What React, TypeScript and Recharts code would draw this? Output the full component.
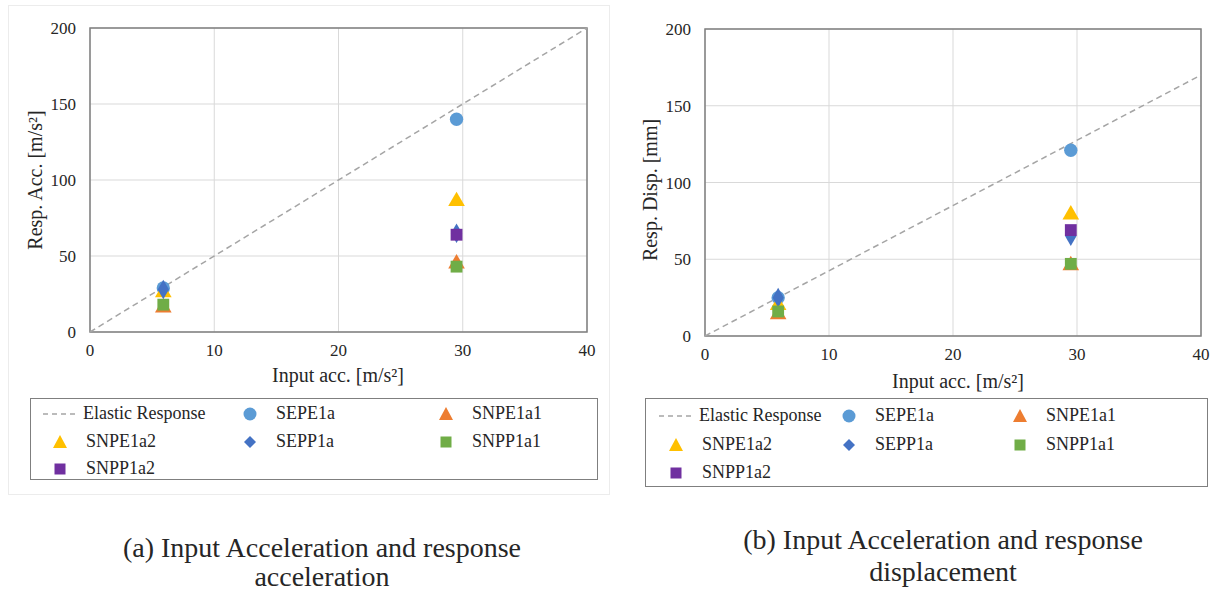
import React from 'react';
import { ScatterChart, Scatter, XAxis, YAxis, CartesianGrid, ReferenceArea, Symbols } from 'recharts';

// x positions of the two test levels
const inputAcc = [5.9, 29.5];

// (a) response acceleration [m/s2]
const accSEPE1a = [29, 140];
const accSNPE1a1 = [16, 45];
const accSNPE1a2 = [26, 86];
const accSEPP1a = [28, 65];
const accSNPP1a1 = [18, 43];
const accSNPP1a2 = [64];

// (b) response displacement [mm]
const dispSEPE1a = [25, 121];
const dispSNPE1a1 = [14, 46];
const dispSNPE1a2 = [20, 79];
const dispSEPP1a = [25, 65];
const dispSNPP1a1 = [16, 47];
const dispSNPP1a2 = [69];

const elasticX = [0, 40];
const elasticAcc = [0, 200];
const elasticDisp = [0, 170];

const xTicks = [0, 10, 20, 30, 40];
const yTicks = [0, 50, 100, 150, 200];

const toPoints = (ys: number[], xs: number[] = inputAcc) =>
  ys.map((y, i) => ({ x: xs[ys.length === 1 ? 1 : i], y }));

const COLORS = {
  elastic: '#A5A5A5',
  SEPE1a: '#5B9BD5',
  SNPE1a1: '#ED7D31',
  SNPE1a2: '#FFC000',
  SEPP1a: '#4472C4',
  SNPP1a1: '#70AD47',
  SNPP1a2: '#7030A0',
};

const FONT = '"Liberation Serif", "Times New Roman", serif';
const tickStyle = { fontFamily: FONT, fontSize: 17, fill: '#262626' };

type SeriesSet = {
  SEPE1a: number[];
  SNPE1a1: number[];
  SNPE1a2: number[];
  SEPP1a: number[];
  SNPP1a1: number[];
  SNPP1a2: number[];
};

const noShape = () => <g />;

// fixed-size markers, like Excel's size-7 markers
const sym = (type: 'circle' | 'triangle' | 'diamond' | 'square', color: string, size: number) =>
  (p: any) => <Symbols cx={p.cx} cy={p.cy} type={type} size={size} fill={color} />;

const Panel: React.FC<{ left: number; top: number; series: SeriesSet; elastic: number[]; marginRight: number; marginTop: number; marginBottom: number }> = ({ left, top, series, elastic, marginRight, marginTop, marginBottom }) => {
  const elasticPts = elastic.map((y, i) => ({ x: elasticX[i], y }));
  return (
    <div style={{ position: 'absolute', left, top }}>
      <ScatterChart width={600} height={380} margin={{ top: marginTop, right: marginRight, bottom: marginBottom, left: 0 }}>
        <CartesianGrid stroke="#d9d9d9" />
        <XAxis type="number" dataKey="x" domain={[0, 40]} ticks={xTicks} tickLine={false} axisLine={false} tickSize={0} tickMargin={12} height={30} tick={tickStyle} />
        <YAxis type="number" dataKey="y" domain={[0, 200]} ticks={yTicks} tickLine={false} axisLine={false} tickSize={0} tickMargin={14} width={90} tick={tickStyle} />
        <ReferenceArea x1={0} x2={40} y1={0} y2={200} fill="none" stroke="#7f7f7f" strokeWidth={1.5} ifOverflow="visible" />
        <Scatter name="Elastic Response" data={elasticPts} line={{ stroke: COLORS.elastic, strokeDasharray: '6 4', strokeWidth: 1.5 }} shape={noShape} isAnimationActive={false} />
        <Scatter name="SEPE1a" data={toPoints(series.SEPE1a)} fill={COLORS.SEPE1a} shape={sym('circle', COLORS.SEPE1a, 140)} isAnimationActive={false} />
        <Scatter name="SNPE1a1" data={toPoints(series.SNPE1a1)} fill={COLORS.SNPE1a1} shape={sym('triangle', COLORS.SNPE1a1, 120)} isAnimationActive={false} />
        <Scatter name="SNPE1a2" data={toPoints(series.SNPE1a2)} fill={COLORS.SNPE1a2} shape={sym('triangle', COLORS.SNPE1a2, 120)} isAnimationActive={false} />
        <Scatter name="SEPP1a" data={toPoints(series.SEPP1a)} fill={COLORS.SEPP1a} shape={sym('diamond', COLORS.SEPP1a, 110)} isAnimationActive={false} />
        <Scatter name="SNPP1a1" data={toPoints(series.SNPP1a1)} fill={COLORS.SNPP1a1} shape={sym('square', COLORS.SNPP1a1, 140)} isAnimationActive={false} />
        <Scatter name="SNPP1a2" data={toPoints(series.SNPP1a2)} fill={COLORS.SNPP1a2} shape={sym('square', COLORS.SNPP1a2, 140)} isAnimationActive={false} />
      </ScatterChart>
    </div>
  );
};

const Marker: React.FC<{ kind: string; color: string }> = ({ kind, color }) => (
  <svg width={34} height={16} style={{ verticalAlign: 'middle' }}>
    {kind === 'line' && <line x1={0} y1={8} x2={34} y2={8} stroke={color} strokeWidth={1.5} strokeDasharray="5 4" />}
    {kind === 'circle' && <circle cx={17} cy={8} r={6.5} fill={color} />}
    {kind === 'triangle' && <polygon points="17,1 24,14 10,14" fill={color} />}
    {kind === 'diamond' && <polygon points="17,2 23,8 17,14 11,8" fill={color} />}
    {kind === 'square' && <rect x={11.5} y={2.5} width={11} height={11} fill={color} />}
  </svg>
);

const legendItems = [
  { name: 'Elastic Response', kind: 'line', color: COLORS.elastic },
  { name: 'SEPE1a', kind: 'circle', color: COLORS.SEPE1a },
  { name: 'SNPE1a1', kind: 'triangle', color: COLORS.SNPE1a1 },
  { name: 'SNPE1a2', kind: 'triangle', color: COLORS.SNPE1a2 },
  { name: 'SEPP1a', kind: 'diamond', color: COLORS.SEPP1a },
  { name: 'SNPP1a1', kind: 'square', color: COLORS.SNPP1a1 },
  { name: 'SNPP1a2', kind: 'square', color: COLORS.SNPP1a2 },
];

const LegendBox: React.FC<{ left: number; top: number; width: number; height: number; colX: number[]; rowY: number[] }> = ({ left, top, width, height, colX, rowY }) => (
  <div style={{ position: 'absolute', left, top, width, height, border: '1.5px solid #7f7f7f', boxSizing: 'border-box', fontFamily: FONT, fontSize: 18, color: '#262626' }}>
    {legendItems.map((it, i) => (
      <div key={it.name} style={{ position: 'absolute', left: colX[i % 3], top: rowY[Math.floor(i / 3)], display: 'flex', alignItems: 'center', whiteSpace: 'nowrap' }}>
        <Marker kind={it.kind} color={it.color} />
        <span style={{ marginLeft: it.kind === 'line' ? 6 : 9 }}>{it.name}</span>
      </div>
    ))}
  </div>
);

const text = (s: string, style: React.CSSProperties) => (
  <div style={{ position: 'absolute', fontFamily: FONT, color: '#262626', whiteSpace: 'nowrap', ...style }}>{s}</div>
);

const App: React.FC = () => (
  <div style={{ position: 'absolute', left: 0, top: 0, width: 1212, height: 592, background: '#fff', overflow: 'hidden' }}>
    <div style={{ position: 'absolute', left: 8, top: 5, width: 600, height: 488, border: '1px solid #ececec' }} />
    <Panel left={0} top={0} series={{ SEPE1a: accSEPE1a, SNPE1a1: accSNPE1a1, SNPE1a2: accSNPE1a2, SEPP1a: accSEPP1a, SNPP1a1: accSNPP1a1, SNPP1a2: accSNPP1a2 }} elastic={elasticAcc} marginRight={13} marginTop={28} marginBottom={18} />
    <Panel left={615} top={0} series={{ SEPE1a: dispSEPE1a, SNPE1a1: dispSNPE1a1, SNPE1a2: dispSNPE1a2, SEPP1a: dispSEPP1a, SNPP1a1: dispSNPP1a1, SNPP1a2: dispSNPP1a2 }} elastic={elasticDisp} marginRight={14} marginTop={29} marginBottom={14} />

    {text('Input acc. [m/s²]', { left: 338, top: 375, fontSize: 20, transform: 'translate(-50%, -50%)' })}
    {text('Resp. Acc. [m/s²]', { left: 35, top: 180, fontSize: 20, transform: 'translate(-50%, -50%) rotate(-90deg)' })}
    {text('Input acc. [m/s²]', { left: 958, top: 381, fontSize: 20, transform: 'translate(-50%, -50%)' })}
    {text('Resp. Disp. [mm]', { left: 650, top: 190, fontSize: 20, transform: 'translate(-50%, -50%) rotate(-90deg)' })}

    <LegendBox left={30} top={398} width={568} height={82} colX={[12, 202, 398]} rowY={[4, 32, 59]} />
    <LegendBox left={645} top={398} width={563} height={89} colX={[13, 186, 357]} rowY={[6, 35, 63]} />

    {text('(a) Input Acceleration and response', { left: 322, top: 548, fontSize: 28, transform: 'translate(-50%, -50%)' })}
    {text('acceleration', { left: 322, top: 577, fontSize: 28, transform: 'translate(-50%, -50%)' })}
    {text('(b) Input Acceleration and response', { left: 943, top: 540, fontSize: 28, transform: 'translate(-50%, -50%)' })}
    {text('displacement', { left: 943, top: 572, fontSize: 28, transform: 'translate(-50%, -50%)' })}
  </div>
);

export default App;
